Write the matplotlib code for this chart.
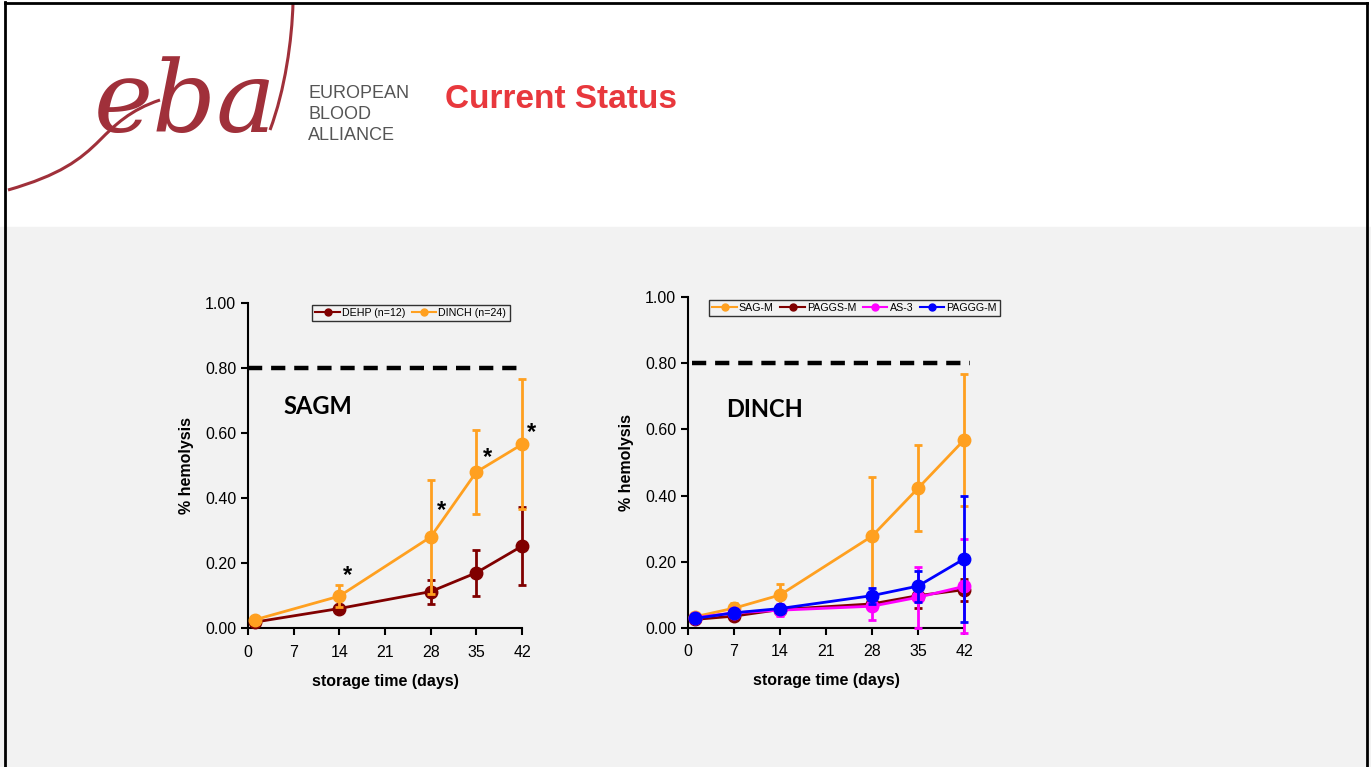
import matplotlib
matplotlib.use("Agg")
import matplotlib.pyplot as plt
import numpy as np
from matplotlib.path import Path
from matplotlib.patches import PathPatch, Rectangle
from matplotlib.lines import Line2D

# ---------------- data ----------------
days_left = [1, 14, 28, 35, 42]
dehp_vals = [0.018, 0.060, 0.112, 0.170, 0.252]
dehp_err = [0.0, 0.0, 0.037, 0.070, 0.120]
dinch_vals = [0.025, 0.098, 0.280, 0.480, 0.565]
dinch_err = [0.0, 0.033, 0.176, 0.130, 0.200]
star_days = [15.3, 29.6, 36.7, 43.5]
star_vals = [0.16, 0.36, 0.525, 0.60]

days_right = [1, 7, 14, 28, 35, 42]
sagm_vals = [0.033, 0.059, 0.099, 0.277, 0.422, 0.568]
sagm_err = [0.0, 0.017, 0.033, 0.179, 0.130, 0.200]
paggs_vals = [0.025, 0.035, 0.055, 0.072, 0.097, 0.115]
paggs_err = [0.0, 0.0, 0.0, 0.0, 0.037, 0.033]
as3_vals = [0.030, 0.045, 0.053, 0.065, 0.092, 0.125]
as3_err = [0.0, 0.0, 0.018, 0.042, 0.092, 0.142]
paggg_vals = [0.028, 0.045, 0.058, 0.097, 0.126, 0.208]
paggg_err = [0.0, 0.0, 0.0, 0.024, 0.047, 0.190]

x_ticks = [0, 7, 14, 21, 28, 35, 42]
y_ticks = [0.0, 0.2, 0.4, 0.6, 0.8, 1.0]
threshold = 0.80

ORANGE = "#FFA020"
DRED = "#800000"
MAG = "#FF00FF"
BLUE = "#0000FF"

W, H = 1371, 767
fig = plt.figure(figsize=(W / 100, H / 100), dpi=100)
fig.patch.set_facecolor("white")
plt.rcParams['font.family'] = ['Liberation Sans', 'DejaVu Sans']

def fx(px):
    return px / W

def fy(py):
    return 1 - py / H

# background
bg = fig.add_axes([0, 0, 1, 1], zorder=-10)
bg.set_xlim(0, W)
bg.set_ylim(H, 0)
bg.axis("off")
bg.add_patch(Rectangle((0, 227), W, H - 227, color="#F2F2F2", zorder=0))
bg.plot([5, 5], [2, H], color="black", lw=2, zorder=5)
bg.plot([5, 1367], [3, 3], color="black", lw=2, zorder=5)
bg.plot([1367, 1367], [3, H], color="black", lw=2, zorder=5)

# logo approximation
verts = [(8, 190), (60, 175), (80, 160), (100, 140),
         (115, 125), (130, 110), (160, 100)]
codes = [Path.MOVETO, Path.CURVE4, Path.CURVE4, Path.CURVE4,
         Path.CURVE4, Path.CURVE4, Path.CURVE4]
bg.add_patch(PathPatch(Path(verts, codes), fill=False, edgecolor="#A0303A", lw=2.2, zorder=3))
verts2 = [(270, 130), (285, 90), (292, 40), (293, 3)]
codes2 = [Path.MOVETO, Path.CURVE4, Path.CURVE4, Path.CURVE4]
bg.add_patch(PathPatch(Path(verts2, codes2), fill=False, edgecolor="#A0303A", lw=2.2, zorder=3))
bg.text(185, 105, "eba", fontsize=72, family="DejaVu Serif", style="italic",
        color="#A0303A", ha="center", va="center", zorder=4)
for i, t in enumerate(["EUROPEAN", "BLOOD", "ALLIANCE"]):
    bg.text(308, 93 + i * 21.5, t, fontsize=13, color="#555555", ha="left",
            va="center", family="Liberation Sans", zorder=4)
bg.text(445, 100, "Current Status", fontsize=24, fontweight="bold",
        color="#E8383D", ha="left", va="center", zorder=4)


def style_ax(ax):
    ax.set_facecolor("none")
    ax.set_xlim(0, 42)
    ax.set_ylim(0, 1.0)
    for s in ["top", "right"]:
        ax.spines[s].set_visible(False)
    for s in ["left", "bottom"]:
        ax.spines[s].set_linewidth(1.5)
    ax.set_xticks(x_ticks)
    ax.set_yticks(y_ticks)
    ax.set_yticklabels([f"{v:.2f}" for v in y_ticks])
    ax.tick_params(direction="out", length=5, width=1.5, labelsize=11.5, colors="black")
    ax.tick_params(axis="x", pad=7)
    ax.set_xlabel("storage time (days)", fontsize=11.5, fontweight="bold", labelpad=10)
    ax.set_ylabel("% hemolysis", fontsize=11.5, fontweight="bold", labelpad=8)


def series(ax, x, y, e, color, label, z):
    ax.errorbar(x, y, yerr=e, color=color, lw=2, marker="o", ms=9,
                capsize=3, capthick=2, elinewidth=2, label=label,
                clip_on=False, zorder=z)


# ---------------- left ----------------
axL = fig.add_axes([fx(248), fy(628), fx(274), 325 / H])
style_ax(axL)
axL.axhline(threshold, xmin=0, xmax=1.01, color="black", lw=3.2,
            dashes=(3.2, 2.0), clip_on=False)
series(axL, days_left, dehp_vals, dehp_err, DRED, "DEHP (n=12)", 3)
series(axL, days_left, dinch_vals, dinch_err, ORANGE, "DINCH (n=24)", 4)
for d, v in zip(star_days, star_vals):
    axL.text(d, v, "*", fontsize=17, fontweight="bold", ha="center", va="center")
axL.text(5.5, 0.68, "SAGM", fontsize=17, fontweight="bold", family="Lato",
         ha="left", va="center")
hL = [Line2D([], [], color=DRED, lw=1.5, marker="o", ms=5),
      Line2D([], [], color=ORANGE, lw=1.5, marker="o", ms=5)]
legL = fig.legend(hL, ["DEHP (n=12)", "DINCH (n=24)"], ncol=2, loc="upper left",
                  bbox_to_anchor=(fx(312), fy(305)), fontsize=7.7, frameon=True,
                  fancybox=False, edgecolor="black", facecolor="none",
                  handlelength=2.3, handletextpad=0.2, columnspacing=0.6,
                  borderpad=0.3, borderaxespad=0)
legL.get_frame().set_linewidth(1.0)

# ---------------- right ----------------
axR = fig.add_axes([fx(688), fy(627.7), fx(276), 330.4 / H])
style_ax(axR)
axR.axhline(threshold, xmin=0.013, xmax=1.02, color="black", lw=3.2,
            dashes=(3.2, 2.0), clip_on=False)
series(axR, days_right, sagm_vals, sagm_err, ORANGE, "SAG-M", 3)
series(axR, days_right, paggs_vals, paggs_err, DRED, "PAGGS-M", 4)
series(axR, days_right, as3_vals, as3_err, MAG, "AS-3", 5)
series(axR, days_right, paggg_vals, paggg_err, BLUE, "PAGGG-M", 6)
axR.text(5.8, 0.66, "DINCH", fontsize=17, fontweight="bold", family="Lato",
         ha="left", va="center")
hR = [Line2D([], [], color=c, lw=1.5, marker="o", ms=5) for c in [ORANGE, DRED, MAG, BLUE]]
legR = fig.legend(hR, ["SAG-M", "PAGGS-M", "AS-3", "PAGGG-M"], ncol=4, loc="upper left",
                  bbox_to_anchor=(fx(709), fy(300)), fontsize=7.7, frameon=True,
                  fancybox=False, edgecolor="black", facecolor="none",
                  handlelength=2.3, handletextpad=0.2, columnspacing=0.6,
                  borderpad=0.3, borderaxespad=0)
legR.get_frame().set_linewidth(1.0)

fig.savefig("out.png", dpi=100)
